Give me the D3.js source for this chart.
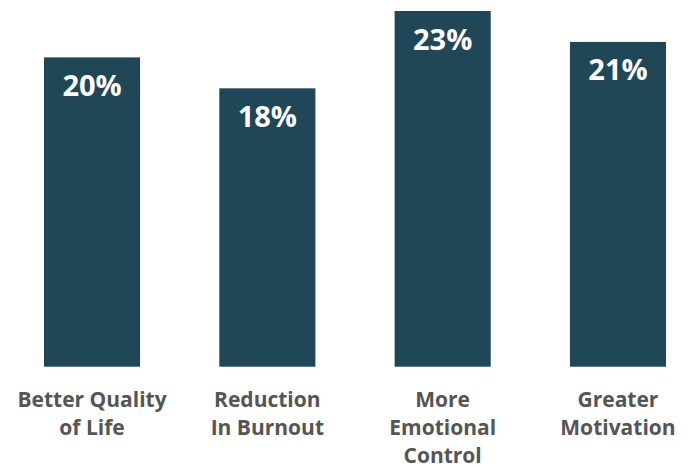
<!DOCTYPE html>
<html>
<head>
<meta charset="utf-8">
<script src="https://cdn.jsdelivr.net/npm/d3@7"></script>
<style>
  body { margin: 0; background: #fff; }
  svg text { font-family: "Open Sans", sans-serif; font-weight: 700; }
</style>
</head>
<body>
<div id="chart"></div>
<script>
// survey results, one bar per benefit
var categories = [
    ["Better Quality", "of Life"],
    ["Reduction", "In Burnout"],
    ["More", "Emotional", "Control"],
    ["Greater", "Motivation"]
];
var percents = [20, 18, 23, 21];

var width = 693, height = 466;
var barColor = "#1f4757";

var svg = d3.select("#chart").append("svg")
    .attr("width", width)
    .attr("height", height);

var x = d3.scaleBand()
    .domain(d3.range(categories.length))
    .range([44, 666])
    .paddingInner(0.452)
    .paddingOuter(0);

var y = d3.scaleLinear()
    .domain([0, 23])
    .range([366.7, 11]);

// bars
svg.selectAll("rect.bar")
    .data(percents)
    .enter().append("rect")
    .attr("class", "bar")
    .attr("x", function(d, i){ return x(i); })
    .attr("y", function(d){ return y(d); })
    .attr("width", x.bandwidth())
    .attr("height", function(d){ return y(0) - y(d); })
    .attr("fill", barColor);

// value labels inside the top of each bar
svg.selectAll("text.value")
    .data(percents)
    .enter().append("text")
    .attr("class", "value")
    .attr("x", function(d, i){ return x(i) + x.bandwidth() / 2; })
    .attr("y", function(d){ return y(d) + 38.5; })
    .attr("text-anchor", "middle")
    .attr("fill", "#fff")
    .style("font-size", "29px")
    .text(function(d){ return d + "%"; });

// category labels under the bars (last line sits right on the bottom edge, like the original)
var xAxis = d3.axisBottom(x).tickSize(0).tickFormat("");
var axisG = svg.append("g")
    .attr("transform", "translate(0," + y(0) + ")")
    .call(xAxis);
axisG.select(".domain").remove();

axisG.selectAll(".tick").each(function(i){
    var t = d3.select(this).append("text")
        .attr("text-anchor", "middle")
        .attr("fill", "#555555")
        .style("font-size", "21px");
    categories[i].forEach(function(line, k){
        t.append("tspan")
            .attr("x", 0)
            .attr("y", 40.5 + k * 28)
            .text(line);
    });
});
</script>
</body>
</html>
